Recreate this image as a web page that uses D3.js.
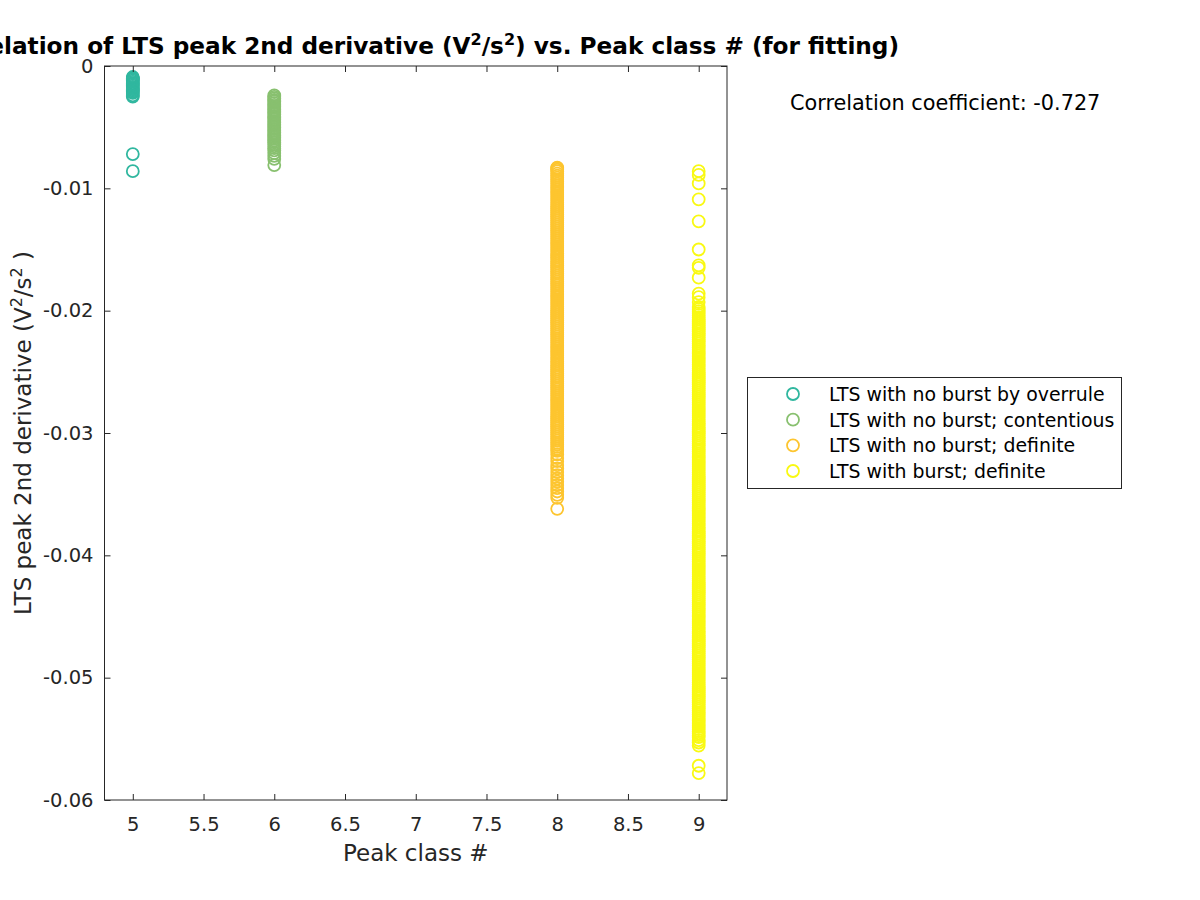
<!DOCTYPE html>
<html><head><meta charset="utf-8">
<script src="https://cdn.jsdelivr.net/npm/d3@7"></script>
<style>body{margin:0;background:#fff} text{font-family:"DejaVu Sans",sans-serif;}</style>
</head><body>
<svg id="c" width="1200" height="900"></svg>
<script>
const xTicks=[5,5.5,6,6.5,7,7.5,8,8.5,9];
const xTickLabels=["5","5.5","6","6.5","7","7.5","8","8.5","9"];
const yTicks=[0,-0.01,-0.02,-0.03,-0.04,-0.05,-0.06];
const yTickLabels=["0","-0.01","-0.02","-0.03","-0.04","-0.05","-0.06"];
const seriesNames=["LTS with no burst by overrule","LTS with no burst; contentious","LTS with no burst; definite","LTS with burst; definite"];
const seriesClass=[5,6,8,9];
const seriesColors=["#30b79f","#88c06f","#fdc52f","#f9f912"];
const correlationText="Correlation coefficient: -0.727";

const class5Values=[-0.0009,-0.0010,-0.0010,-0.0011,-0.0012,-0.0013,-0.0014,-0.0015,-0.0016,-0.0017,-0.0018,-0.0019,-0.0020,-0.0021,-0.0022,-0.0024,-0.0025,-0.0072,-0.0086];
const class6Values=[-0.00240,-0.00252,-0.00265,-0.00278,-0.00290,-0.00303,-0.00317,-0.00330,-0.00343,-0.00356,-0.00370,-0.00383,-0.00396,-0.00410,-0.00423,-0.00436,-0.00450,-0.00463,-0.00476,-0.00490,-0.00503,-0.00516,-0.00530,-0.00543,-0.00556,-0.00570,-0.00583,-0.00596,-0.00610,-0.00625,-0.00640,-0.00655,-0.00672,-0.00690,-0.00712,-0.00735,-0.00760,-0.00810];
const class8Values=[-0.00830,-0.00836,-0.00848,-0.00862,-0.00880,-0.00897,-0.00913,-0.00930,-0.00946,-0.00963,-0.00980,-0.00996,
-0.01013,-0.01030,-0.01046,-0.01063,-0.01080,-0.01096,-0.01113,-0.01130,-0.01146,-0.01163,-0.01180,-0.01196,
-0.01213,-0.01230,-0.01246,-0.01263,-0.01280,-0.01296,-0.01313,-0.01330,-0.01346,-0.01363,-0.01380,-0.01396,
-0.01413,-0.01430,-0.01446,-0.01463,-0.01480,-0.01496,-0.01513,-0.01530,-0.01546,-0.01563,-0.01580,-0.01596,
-0.01613,-0.01630,-0.01646,-0.01663,-0.01680,-0.01696,-0.01713,-0.01730,-0.01746,-0.01763,-0.01780,-0.01796,
-0.01813,-0.01830,-0.01846,-0.01863,-0.01880,-0.01896,-0.01913,-0.01930,-0.01946,-0.01963,-0.01980,-0.01996,
-0.02013,-0.02030,-0.02046,-0.02063,-0.02080,-0.02096,-0.02113,-0.02130,-0.02146,-0.02163,-0.02180,-0.02196,
-0.02213,-0.02230,-0.02246,-0.02263,-0.02280,-0.02296,-0.02313,-0.02330,-0.02346,-0.02363,-0.02380,-0.02396,
-0.02413,-0.02430,-0.02446,-0.02463,-0.02480,-0.02496,-0.02513,-0.02530,-0.02546,-0.02563,-0.02580,-0.02596,
-0.02613,-0.02630,-0.02646,-0.02663,-0.02680,-0.02696,-0.02713,-0.02730,-0.02746,-0.02763,-0.02780,-0.02796,
-0.02813,-0.02830,-0.02846,-0.02863,-0.02880,-0.02896,-0.02913,-0.02930,-0.02946,-0.02963,-0.02980,-0.02996,
-0.03013,-0.03030,-0.03046,-0.03063,-0.03080,-0.03096,-0.03113,-0.03130,-0.03146,-0.03175,-0.03205,-0.03230,
-0.03262,-0.03290,-0.03318,-0.03345,-0.03372,-0.03398,-0.03425,-0.03450,-0.03478,-0.03505,-0.03530,-0.03620];
const class9Values=[-0.00860,-0.00890,-0.00960,-0.01090,-0.01270,-0.01500,-0.01630,-0.01650,-0.01730,-0.01860,-0.01890,-0.01930,
-0.01970,-0.01987,
-0.02003,-0.02020,-0.02037,-0.02053,-0.02070,-0.02087,-0.02103,-0.02120,-0.02137,-0.02153,-0.02170,-0.02187,
-0.02203,-0.02220,-0.02237,-0.02253,-0.02270,-0.02287,-0.02303,-0.02320,-0.02337,-0.02353,-0.02370,-0.02387,
-0.02403,-0.02420,-0.02437,-0.02453,-0.02470,-0.02487,-0.02503,-0.02520,-0.02537,-0.02553,-0.02570,-0.02587,
-0.02603,-0.02620,-0.02637,-0.02653,-0.02670,-0.02687,-0.02703,-0.02720,-0.02737,-0.02753,-0.02770,-0.02787,
-0.02803,-0.02820,-0.02837,-0.02853,-0.02870,-0.02887,-0.02903,-0.02920,-0.02937,-0.02953,-0.02970,-0.02987,
-0.03003,-0.03020,-0.03037,-0.03053,-0.03070,-0.03087,-0.03103,-0.03120,-0.03137,-0.03153,-0.03170,-0.03187,
-0.03203,-0.03220,-0.03237,-0.03253,-0.03270,-0.03287,-0.03303,-0.03320,-0.03337,-0.03353,-0.03370,-0.03387,
-0.03403,-0.03420,-0.03437,-0.03453,-0.03470,-0.03487,-0.03503,-0.03520,-0.03537,-0.03553,-0.03570,-0.03587,
-0.03603,-0.03620,-0.03637,-0.03653,-0.03670,-0.03687,-0.03703,-0.03720,-0.03737,-0.03753,-0.03770,-0.03787,
-0.03803,-0.03820,-0.03837,-0.03853,-0.03870,-0.03887,-0.03903,-0.03920,-0.03937,-0.03953,-0.03970,-0.03987,
-0.04003,-0.04020,-0.04037,-0.04053,-0.04070,-0.04087,-0.04103,-0.04120,-0.04137,-0.04153,-0.04170,-0.04187,
-0.04203,-0.04220,-0.04237,-0.04253,-0.04270,-0.04287,-0.04303,-0.04320,-0.04337,-0.04353,-0.04370,-0.04387,
-0.04403,-0.04420,-0.04437,-0.04453,-0.04470,-0.04487,-0.04503,-0.04520,-0.04537,-0.04553,-0.04570,-0.04587,
-0.04603,-0.04620,-0.04637,-0.04653,-0.04670,-0.04687,-0.04703,-0.04720,-0.04737,-0.04753,-0.04770,-0.04787,
-0.04803,-0.04820,-0.04837,-0.04853,-0.04870,-0.04887,-0.04903,-0.04920,-0.04937,-0.04953,-0.04970,-0.04987,
-0.05003,-0.05020,-0.05037,-0.05053,-0.05070,-0.05087,-0.05103,-0.05120,-0.05137,-0.05153,-0.05170,-0.05187,
-0.05203,-0.05220,-0.05237,-0.05253,-0.05270,-0.05287,-0.05303,-0.05320,-0.05337,-0.05353,-0.05370,-0.05387,
-0.05403,-0.05420,-0.05437,-0.05453,-0.05470,-0.05485,-0.05510,-0.05530,-0.05555,-0.05720,-0.05780];
const seriesValues=[class5Values,class6Values,class8Values,class9Values];

const svg=d3.select("#c");
const L=104.5,R=727,T=66,B=800;
const x=d3.scaleLinear().domain([4.8,9.2]).range([L,R]);
const y=d3.scaleLinear().domain([-0.06,0]).range([B,T]);
const axisColor="#262626";

// points
seriesValues.forEach((vals,i)=>{
  svg.append("g").selectAll("circle").data(vals).join("circle")
    .attr("cx",x(seriesClass[i])).attr("cy",d=>y(d)).attr("r",6)
    .attr("fill","none").attr("stroke",seriesColors[i]).attr("stroke-width",1.8);
});

// axes
const fmtX=(d,i)=>xTickLabels[i];
const fmtY=(d,i)=>yTickLabels[i];
const gx=svg.append("g").attr("transform",`translate(0,${B})`)
  .call(d3.axisBottom(x).tickValues(xTicks).tickFormat(fmtX).tickSize(-6).tickSizeOuter(0).tickPadding(17));
const gxt=svg.append("g").attr("transform",`translate(0,${T})`)
  .call(d3.axisTop(x).tickValues(xTicks).tickFormat("").tickSize(-6).tickSizeOuter(0));
const gy=svg.append("g").attr("transform",`translate(${L},0)`)
  .call(d3.axisLeft(y).tickValues(yTicks).tickFormat(fmtY).tickSize(-6).tickSizeOuter(0).tickPadding(11));
const gyr=svg.append("g").attr("transform",`translate(${R},0)`)
  .call(d3.axisRight(y).tickValues(yTicks).tickFormat("").tickSize(-6).tickSizeOuter(0));
[gx,gxt,gy,gyr].forEach(g=>{
  g.select(".domain").remove();
  g.selectAll("line").attr("stroke",axisColor);
  g.selectAll("text").attr("fill",axisColor).style("font-size","19.5px").style("font-family","DejaVu Sans");
});
svg.append("rect").attr("x",L).attr("y",T).attr("width",R-L).attr("height",B-T)
  .attr("fill","none").attr("stroke",axisColor).attr("stroke-width",1);

// labels
svg.append("text").attr("x",(L+R)/2).attr("y",861).attr("text-anchor","middle")
  .attr("fill",axisColor).style("font-size","23px").text("Peak class #");
const yl=svg.append("text").attr("transform",`translate(30.5,${(T+B)/2}) rotate(-90)`).attr("text-anchor","middle")
  .attr("fill",axisColor).style("font-size","23px");
yl.append("tspan").text("LTS peak 2nd derivative (V");
yl.append("tspan").attr("dy",-9).style("font-size","16px").text("2");
yl.append("tspan").attr("dy",9).text("/s");
yl.append("tspan").attr("dy",-9).style("font-size","16px").text("2");
yl.append("tspan").attr("dy",9).text(" )");

const tt=svg.append("text").attr("x",(L+R)/2).attr("y",54).attr("text-anchor","middle")
  .attr("fill","#000").style("font-size","23.2px").style("font-weight","bold");
tt.append("tspan").text("Correlation of LTS peak 2nd derivative (V");
tt.append("tspan").attr("dy",-9).style("font-size","16px").text("2");
tt.append("tspan").attr("dy",9).text("/s");
tt.append("tspan").attr("dy",-9).style("font-size","16px").text("2");
tt.append("tspan").attr("dy",9).text(") vs. Peak class # (for fitting)");

svg.append("text").attr("x",790).attr("y",110).attr("fill","#000").style("font-size","20.8px").text(correlationText);

// legend
svg.append("rect").attr("x",747.5).attr("y",377.5).attr("width",374).attr("height",111)
  .attr("fill","#fff").attr("stroke",axisColor).attr("stroke-width",1);
const ly=d3.scalePoint().domain(d3.range(seriesNames.length)).range([394,471]);
seriesNames.forEach((n,i)=>{
  svg.append("circle").attr("cx",793).attr("cy",ly(i)).attr("r",6).attr("fill","none")
    .attr("stroke",seriesColors[i]).attr("stroke-width",1.8);
  svg.append("text").attr("x",829).attr("y",ly(i)+7).attr("fill","#000").style("font-size","18.9px").text(n);
});
</script>
</body></html>
